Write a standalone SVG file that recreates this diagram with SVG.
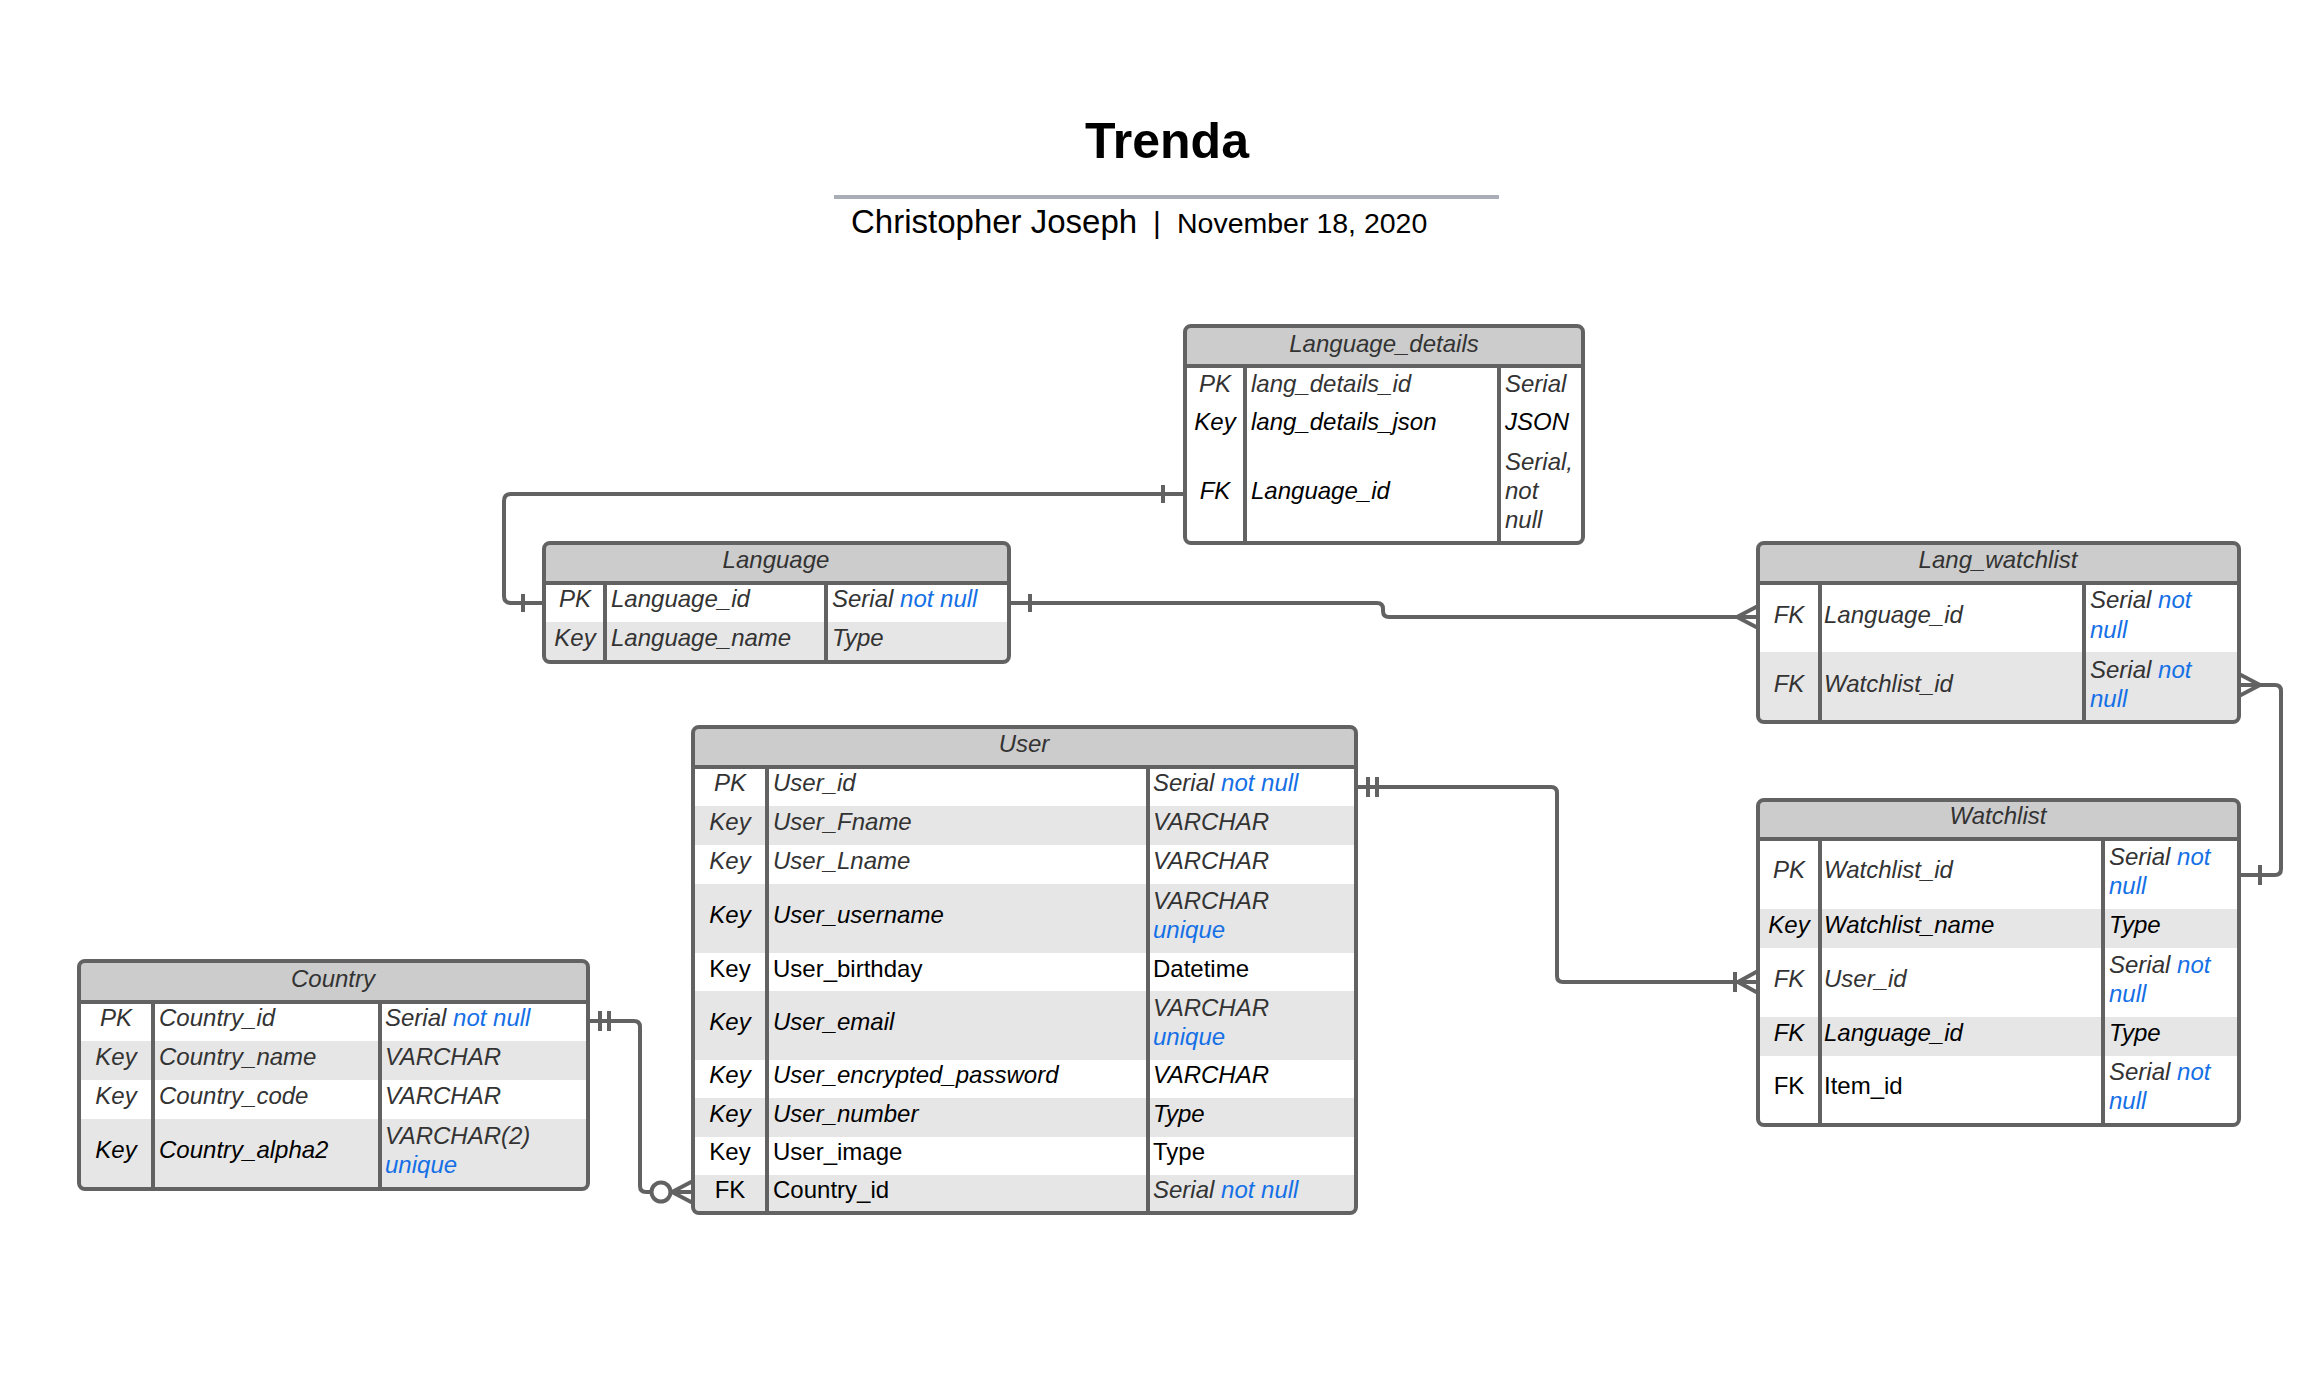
<svg xmlns="http://www.w3.org/2000/svg" width="2320" height="1394" viewBox="0 0 2320 1394">
<style>
text{font-family:"Liberation Sans",Arial,sans-serif;font-size:24px}
.g{fill:#333;font-style:italic}
.k{fill:#000;font-style:italic}
.n{fill:#000}
.u{fill:#1570e6}
.m{text-anchor:middle}
.frame{fill:none;stroke:#626262;stroke-width:4}
.bg{fill:#fff}
.hd{fill:#cccccc}
.alt{fill:#e6e6e6}
.sep{stroke:#626262;stroke-width:4}
.con{fill:none;stroke:#626262;stroke-width:4;stroke-linejoin:round}
.tk{stroke:#626262;stroke-width:4}
</style>
<rect width="2320" height="1394" fill="#fff"/>
<g id="title">
<text x="1167" y="158" class="m" style="font-size:50px;font-weight:bold;fill:#000">Trenda</text>
<line x1="834" y1="197" x2="1499" y2="197" stroke="#a9adb6" stroke-width="4"/>
<text x="851" y="233" class="n" style="font-size:33px">Christopher Joseph</text>
<text x="1153" y="233" class="n" style="font-size:30px">|</text>
<text x="1177" y="233" class="n" style="font-size:28.5px">November 18, 2020</text>
</g>
<g id="connectors">
<path class="con" d="M1185,494 H511 Q504,494 504,501 V596 Q504,603 511,603 H544"/>
<line class="tk" x1="1163" y1="485" x2="1163" y2="503"/>
<line class="tk" x1="523" y1="594" x2="523" y2="612"/>
<path class="con" d="M1009,603 H1377 Q1383,603 1383,609 V611 Q1383,617 1389,617 H1758"/>
<line class="tk" x1="1030" y1="594" x2="1030" y2="612"/>
<path class="con" d="M1758,606 L1737,617 L1758,628"/>
<path class="con" d="M2239,685 H2275 Q2281,685 2281,691 V869 Q2281,875 2275,875 H2239"/>
<path class="con" d="M2239,674 L2260,685 L2239,696"/>
<line class="tk" x1="2260" y1="865" x2="2260" y2="885"/>
<path class="con" d="M1356,787 H1551 Q1557,787 1557,793 V976 Q1557,982 1563,982 H1758"/>
<line class="tk" x1="1368" y1="777" x2="1368" y2="797"/>
<line class="tk" x1="1377" y1="777" x2="1377" y2="797"/>
<line class="tk" x1="1735" y1="972" x2="1735" y2="992"/>
<path class="con" d="M1758,971 L1738,982 L1758,993"/>
<path class="con" d="M588,1021 H634 Q640,1021 640,1027 V1186 Q640,1192 646,1192 H693"/>
<line class="tk" x1="600" y1="1011" x2="600" y2="1031"/>
<line class="tk" x1="609" y1="1011" x2="609" y2="1031"/>
<circle cx="661" cy="1192" r="9.5" fill="#fff" stroke="#626262" stroke-width="4"/>
<path class="con" d="M693,1181 L672,1192 L693,1203"/>
</g>
<g id="language_details">
<rect class="bg" x="1185" y="326" width="398" height="217" rx="6"/>
<rect class="hd" x="1187" y="328" width="394" height="38"/>
<line class="sep" x1="1185" y1="366" x2="1583" y2="366"/>
<line class="sep" x1="1245" y1="366" x2="1245" y2="543"/>
<line class="sep" x1="1499" y1="366" x2="1499" y2="543"/>
<rect class="frame" x="1185" y="326" width="398" height="217" rx="6"/>
<text x="1384" y="352" class="g m">Language_details</text>
<text x="1215" y="392" class="g m">PK</text>
<text x="1251" y="392" class="g">lang_details_id</text>
<text x="1505" y="392" class="g">Serial</text>
<text x="1215" y="430" class="k m">Key</text>
<text x="1251" y="430" class="k">lang_details_json</text>
<text x="1505" y="430" class="k">JSON</text>
<text x="1215" y="499" class="k m">FK</text>
<text x="1251" y="499" class="k">Language_id</text>
<text x="1505" y="470" class="g">Serial,</text>
<text x="1505" y="499" class="g">not</text>
<text x="1505" y="528" class="g">null</text>
</g>
<g id="language">
<rect class="bg" x="544" y="543" width="465" height="119" rx="6"/>
<rect class="hd" x="546" y="545" width="461" height="38"/>
<rect class="alt" x="546" y="622" width="461" height="38"/>
<line class="sep" x1="544" y1="583" x2="1009" y2="583"/>
<line class="sep" x1="605" y1="583" x2="605" y2="662"/>
<line class="sep" x1="826" y1="583" x2="826" y2="662"/>
<rect class="frame" x="544" y="543" width="465" height="119" rx="6"/>
<text x="776" y="568" class="g m">Language</text>
<text x="575" y="607" class="g m">PK</text>
<text x="611" y="607" class="g">Language_id</text>
<text x="832" y="607" class="g">Serial <tspan class="u">not null</tspan></text>
<text x="575" y="646" class="g m">Key</text>
<text x="611" y="646" class="g">Language_name</text>
<text x="832" y="646" class="g">Type</text>
</g>
<g id="lang_watchlist">
<rect class="bg" x="1758" y="543" width="481" height="179" rx="6"/>
<rect class="hd" x="1760" y="545" width="477" height="38"/>
<rect class="alt" x="1760" y="652" width="477" height="68"/>
<line class="sep" x1="1758" y1="583" x2="2239" y2="583"/>
<line class="sep" x1="1820" y1="583" x2="1820" y2="722"/>
<line class="sep" x1="2084" y1="583" x2="2084" y2="722"/>
<rect class="frame" x="1758" y="543" width="481" height="179" rx="6"/>
<text x="1998" y="568" class="g m">Lang_watchlist</text>
<text x="1789" y="623" class="g m">FK</text>
<text x="1824" y="623" class="g">Language_id</text>
<text x="2090" y="608" class="g">Serial <tspan class="u">not</tspan></text>
<text x="2090" y="638" class="g u">null</text>
<text x="1789" y="692" class="g m">FK</text>
<text x="1824" y="692" class="g">Watchlist_id</text>
<text x="2090" y="678" class="g">Serial <tspan class="u">not</tspan></text>
<text x="2090" y="707" class="g u">null</text>
</g>
<g id="watchlist">
<rect class="bg" x="1758" y="800" width="481" height="325" rx="6"/>
<rect class="hd" x="1760" y="802" width="477" height="37"/>
<rect class="alt" x="1760" y="909" width="477" height="39"/>
<rect class="alt" x="1760" y="1017" width="477" height="39"/>
<line class="sep" x1="1758" y1="839" x2="2239" y2="839"/>
<line class="sep" x1="1820" y1="839" x2="1820" y2="1125"/>
<line class="sep" x1="2103" y1="839" x2="2103" y2="1125"/>
<rect class="frame" x="1758" y="800" width="481" height="325" rx="6"/>
<text x="1998" y="824" class="g m">Watchlist</text>
<text x="1789" y="878" class="g m">PK</text>
<text x="1824" y="878" class="g">Watchlist_id</text>
<text x="2109" y="865" class="g">Serial <tspan class="u">not</tspan></text>
<text x="2109" y="894" class="g u">null</text>
<text x="1789" y="933" class="k m">Key</text>
<text x="1824" y="933" class="k">Watchlist_name</text>
<text x="2109" y="933" class="k">Type</text>
<text x="1789" y="987" class="g m">FK</text>
<text x="1824" y="987" class="g">User_id</text>
<text x="2109" y="973" class="g">Serial <tspan class="u">not</tspan></text>
<text x="2109" y="1002" class="g u">null</text>
<text x="1789" y="1041" class="k m">FK</text>
<text x="1824" y="1041" class="k">Language_id</text>
<text x="2109" y="1041" class="k">Type</text>
<text x="1789" y="1094" class="n m">FK</text>
<text x="1824" y="1094" class="n">Item_id</text>
<text x="2109" y="1080" class="g">Serial <tspan class="u">not</tspan></text>
<text x="2109" y="1109" class="g u">null</text>
</g>
<g id="user">
<rect class="bg" x="693" y="727" width="663" height="486" rx="6"/>
<rect class="hd" x="695" y="729" width="659" height="38"/>
<rect class="alt" x="695" y="806" width="659" height="39"/>
<rect class="alt" x="695" y="884" width="659" height="69"/>
<rect class="alt" x="695" y="991" width="659" height="69"/>
<rect class="alt" x="695" y="1098" width="659" height="39"/>
<rect class="alt" x="695" y="1175" width="659" height="36"/>
<line class="sep" x1="693" y1="767" x2="1356" y2="767"/>
<line class="sep" x1="767" y1="767" x2="767" y2="1213"/>
<line class="sep" x1="1148" y1="767" x2="1148" y2="1213"/>
<rect class="frame" x="693" y="727" width="663" height="486" rx="6"/>
<text x="1024" y="752" class="g m">User</text>
<text x="730" y="791" class="g m">PK</text>
<text x="773" y="791" class="g">User_id</text>
<text x="1153" y="791" class="g">Serial <tspan class="u">not null</tspan></text>
<text x="730" y="830" class="g m">Key</text>
<text x="773" y="830" class="g">User_Fname</text>
<text x="1153" y="830" class="g">VARCHAR</text>
<text x="730" y="869" class="g m">Key</text>
<text x="773" y="869" class="g">User_Lname</text>
<text x="1153" y="869" class="g">VARCHAR</text>
<text x="730" y="923" class="k m">Key</text>
<text x="773" y="923" class="k">User_username</text>
<text x="1153" y="909" class="g">VARCHAR</text>
<text x="1153" y="938" class="g u">unique</text>
<text x="730" y="977" class="n m">Key</text>
<text x="773" y="977" class="n">User_birthday</text>
<text x="1153" y="977" class="n">Datetime</text>
<text x="730" y="1030" class="k m">Key</text>
<text x="773" y="1030" class="k">User_email</text>
<text x="1153" y="1016" class="g">VARCHAR</text>
<text x="1153" y="1045" class="g u">unique</text>
<text x="730" y="1083" class="k m">Key</text>
<text x="773" y="1083" class="k">User_encrypted_password</text>
<text x="1153" y="1083" class="k">VARCHAR</text>
<text x="730" y="1122" class="k m">Key</text>
<text x="773" y="1122" class="k">User_number</text>
<text x="1153" y="1122" class="k">Type</text>
<text x="730" y="1160" class="n m">Key</text>
<text x="773" y="1160" class="n">User_image</text>
<text x="1153" y="1160" class="n">Type</text>
<text x="730" y="1198" class="n m">FK</text>
<text x="773" y="1198" class="n">Country_id</text>
<text x="1153" y="1198" class="g">Serial <tspan class="u">not null</tspan></text>
</g>
<g id="country">
<rect class="bg" x="79" y="961" width="509" height="228" rx="6"/>
<rect class="hd" x="81" y="963" width="505" height="39"/>
<rect class="alt" x="81" y="1041" width="505" height="39"/>
<rect class="alt" x="81" y="1119" width="505" height="68"/>
<line class="sep" x1="79" y1="1002" x2="588" y2="1002"/>
<line class="sep" x1="153" y1="1002" x2="153" y2="1189"/>
<line class="sep" x1="380" y1="1002" x2="380" y2="1189"/>
<rect class="frame" x="79" y="961" width="509" height="228" rx="6"/>
<text x="333" y="987" class="g m">Country</text>
<text x="116" y="1026" class="g m">PK</text>
<text x="159" y="1026" class="g">Country_id</text>
<text x="385" y="1026" class="g">Serial <tspan class="u">not null</tspan></text>
<text x="116" y="1065" class="g m">Key</text>
<text x="159" y="1065" class="g">Country_name</text>
<text x="385" y="1065" class="g">VARCHAR</text>
<text x="116" y="1104" class="g m">Key</text>
<text x="159" y="1104" class="g">Country_code</text>
<text x="385" y="1104" class="g">VARCHAR</text>
<text x="116" y="1158" class="k m">Key</text>
<text x="159" y="1158" class="k">Country_alpha2</text>
<text x="385" y="1144" class="g">VARCHAR(2)</text>
<text x="385" y="1173" class="g u">unique</text>
</g>
</svg>
